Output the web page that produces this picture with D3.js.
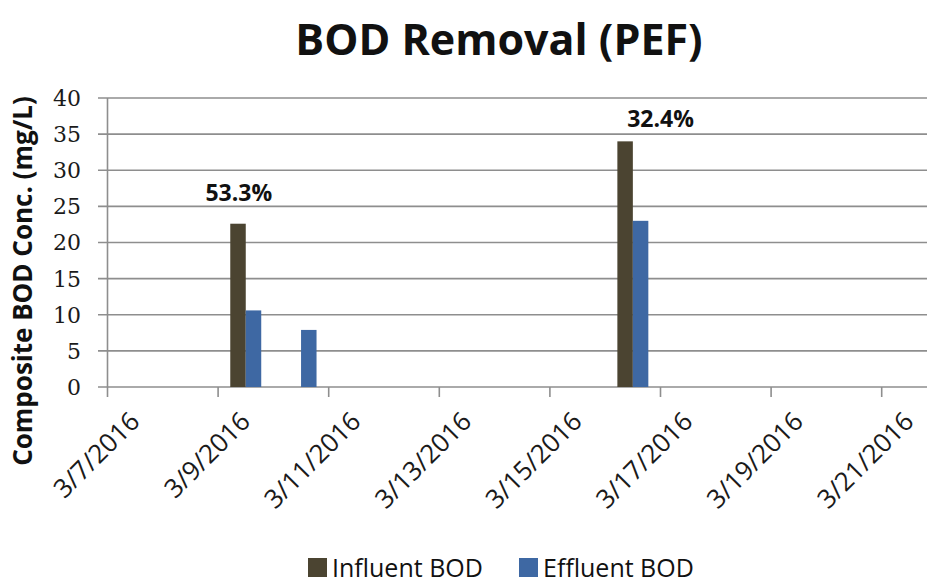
<!DOCTYPE html>
<html>
<head>
<meta charset="utf-8">
<script src="https://cdn.jsdelivr.net/npm/d3@7"></script>
<style>
  body { margin: 0; background: #fff; }
  svg { display: block; }
</style>
</head>
<body>
<div id="chart"></div>
<script>
const width = 927;
const height = 583;

// data
const dates = ["2016-03-09", "2016-03-10", "2016-03-16"];
const influent = [22.6, null, 34.0];
const effluent = [10.6, 7.9, 23.0];
const seriesNames = ["Influent BOD", "Effluent BOD"];
const yTicks = [0, 5, 10, 15, 20, 25, 30, 35, 40];
const tickDates = ["2016-03-07", "2016-03-09", "2016-03-11", "2016-03-13",
                   "2016-03-15", "2016-03-17", "2016-03-19", "2016-03-21"];
const notes = [
  {date: "2016-03-09T09:00", value: 25.7, text: "53.3%"},
  {date: "2016-03-17T00:00", value: 36.0, text: "32.4%"}
];

const colors = ["#4b4431", "#3e68a3"];

const parse = d3.isoParse;
const fmt = d3.timeFormat("%-m/%-d/%Y");

const svg = d3.select("#chart")
  .append("svg")
  .attr("width", width)
  .attr("height", height);

// plot area runs past the right edge, like the cropped original
const x = d3.scaleTime()
  .domain([parse("2016-03-07"), parse("2016-03-22")])
  .range([107.5, 937]);

const y = d3.scaleLinear()
  .domain([0, 40])
  .range([387, 98]);

const slot = x(parse("2016-03-08")) - x(parse("2016-03-07"));
const barW = slot * 0.28;

// gridlines
svg.append("g")
  .selectAll("line")
  .data(yTicks)
  .join("line")
    .attr("x1", 98)
    .attr("x2", width)
    .attr("y1", d => y(d))
    .attr("y2", d => y(d))
    .attr("stroke", "#8e8e8e")
    .attr("stroke-width", 1.6);

// y axis line
svg.append("line")
  .attr("x1", x.range()[0]).attr("x2", x.range()[0])
  .attr("y1", y(40)).attr("y2", y(0))
  .attr("stroke", "#8e8e8e")
  .attr("stroke-width", 1.6);

svg.append("g")
  .selectAll("text")
  .data(yTicks)
  .join("text")
    .attr("x", 81)
    .attr("y", d => y(d))
    .attr("dy", "0.36em")
    .attr("text-anchor", "end")
    .attr("font-family", "'DejaVu Serif', serif")
    .attr("font-size", 22)
    .attr("fill", "#1a1a1a")
    .text(d => d);

// x tick marks + labels
const xg = svg.append("g");
xg.selectAll("line")
  .data(tickDates)
  .join("line")
    .attr("x1", d => x(parse(d)))
    .attr("x2", d => x(parse(d)))
    .attr("y1", y(0))
    .attr("y2", y(0) + 10)
    .attr("stroke", "#8e8e8e")
    .attr("stroke-width", 1.6);

xg.selectAll("text")
  .data(tickDates)
  .join("text")
    .attr("transform", d => `translate(${x(parse(d)) + slot / 2 + 6}, 423) rotate(-45)`)
    .attr("text-anchor", "end")
    .attr("font-family", "'Open Sans', sans-serif")
    .attr("font-size", 26)
    .attr("fill", "#1a1a1a")
    .text(d => fmt(parse(d)));

// bars
const rows = dates.map((d, i) => ({date: parse(d), vals: [influent[i], effluent[i]]}));

const groups = svg.append("g")
  .selectAll("g")
  .data(rows)
  .join("g")
    .attr("transform", d => `translate(${x(d.date) + slot / 2}, 0)`);

groups.selectAll("rect")
  .data(d => d.vals.map((v, k) => ({v, k})).filter(e => e.v != null))
  .join("rect")
    .attr("x", e => e.k === 0 ? -barW : 0)
    .attr("width", barW)
    .attr("y", e => y(e.v))
    .attr("height", e => y(0) - y(e.v))
    .attr("fill", e => colors[e.k]);

// percentage notes
svg.append("g")
  .selectAll("text")
  .data(notes)
  .join("text")
    .attr("x", d => x(parse(d.date)))
    .attr("y", d => y(d.value))
    .attr("text-anchor", "middle")
    .attr("font-family", "'Open Sans', sans-serif")
    .attr("font-weight", "bold")
    .attr("font-size", 23)
    .attr("fill", "#111")
    .text(d => d.text);

// title
svg.append("text")
  .attr("x", 499)
  .attr("y", 55)
  .attr("text-anchor", "middle")
  .attr("font-family", "'Open Sans', sans-serif")
  .attr("font-weight", "bold")
  .attr("font-size", 43)
  .attr("fill", "#111")
  .text("BOD Removal (PEF)");

// y axis title
svg.append("text")
  .attr("transform", "translate(32, 281) rotate(-90)")
  .attr("text-anchor", "middle")
  .attr("font-family", "'Open Sans', sans-serif")
  .attr("font-weight", "bold")
  .attr("font-size", 26)
  .attr("fill", "#111")
  .text("Composite BOD Conc. (mg/L)");

// legend
const legendX = [308, 519];
const legend = svg.append("g")
  .selectAll("g")
  .data(seriesNames)
  .join("g")
    .attr("transform", (d, i) => `translate(${legendX[i]}, 558)`);

legend.append("rect")
  .attr("width", 19)
  .attr("height", 19)
  .attr("fill", (d, i) => colors[i]);

legend.append("text")
  .attr("x", 24)
  .attr("y", 19)
  .attr("font-family", "'Open Sans', sans-serif")
  .attr("font-size", 25)
  .attr("fill", "#111")
  .text(d => d);
</script>
</body>
</html>
